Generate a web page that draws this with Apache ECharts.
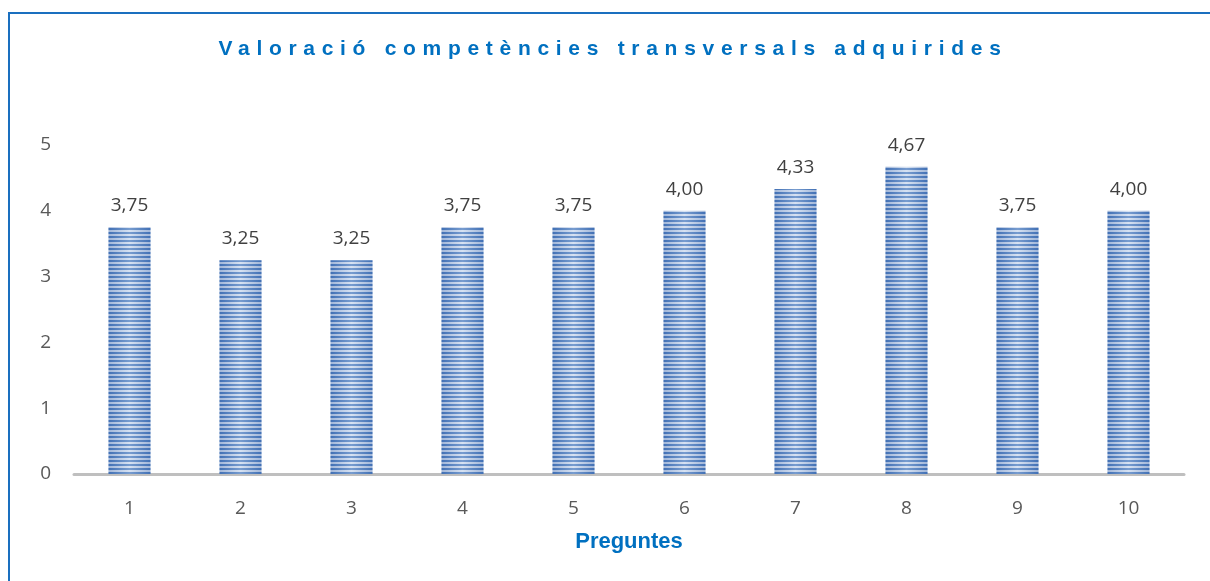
<!DOCTYPE html>
<html>
<head>
<meta charset="utf-8">
<script src="https://cdn.jsdelivr.net/npm/echarts@6/dist/echarts.min.js"></script>
<style>
  html, body { margin: 0; padding: 0; background: #fff; }
  #wrap { position: relative; width: 1210px; height: 581px; overflow: hidden; }
  #chart { width: 1210px; height: 581px; }
  #title {
    position: absolute; left: 8px; width: 1210px; top: 36px; text-align: center;
    font-family: "Liberation Sans", Arial, sans-serif; font-weight: bold;
    font-size: 21px; letter-spacing: 6.7px; color: #0070C0; line-height: 24px;
  }
</style>
</head>
<body>
<div id="wrap">
  <div id="chart"></div>
  <div id="title">Valoració competències transversals adquirides</div>
</div>
<script>
var categories = ['1', '2', '3', '4', '5', '6', '7', '8', '9', '10'];
var values = [3.75, 3.25, 3.25, 3.75, 3.75, 4.00, 4.33, 4.67, 3.75, 4.00];
var yTicks = [0, 1, 2, 3, 4, 5];
var axisName = 'Preguntes';

// striped fill like the original chart
var stripe = document.createElement('canvas');
stripe.width = 4;
stripe.height = 4;
var sctx = stripe.getContext('2d');
sctx.fillStyle = '#c9d8ee';
sctx.fillRect(0, 0, 4, 4);
sctx.fillStyle = '#4a7bbf';
sctx.fillRect(0, 0, 4, 2);

var chart = echarts.init(document.getElementById('chart'), null, { renderer: 'canvas' });

chart.setOption({
    animation: false,
    backgroundColor: '#fff',
    graphic: [{
        type: 'rect',
        shape: { x: 9, y: 13, width: 1260, height: 640 },
        style: { fill: 'none', stroke: '#1a6fbf', lineWidth: 2 },
        silent: true
    }],
    grid: { left: 74, right: 26, top: 145, bottom: 107 },
    xAxis: {
        type: 'category',
        data: categories,
        name: axisName,
        nameLocation: 'middle',
        nameGap: 57,
        nameTextStyle: {
            fontFamily: 'Liberation Sans', fontWeight: 'bold', fontSize: 22, color: '#0070C0'
        },
        axisLine: { lineStyle: { color: '#bfbfbf', width: 3 } },
        axisTick: { show: false },
        axisLabel: { fontFamily: 'Open Sans', fontSize: 19, color: '#595959', margin: 25 }
    },
    yAxis: {
        type: 'value',
        min: yTicks[0],
        max: yTicks[yTicks.length - 1],
        interval: 1,
        axisLine: { show: false },
        axisTick: { show: false },
        splitLine: { show: false },
        axisLabel: { fontFamily: 'Open Sans', fontSize: 19, color: '#595959', margin: 23 }
    },
    series: [{
        type: 'bar',
        data: values,
        barWidth: 42,
        itemStyle: { color: { image: stripe, repeat: 'repeat' } },
        silent: true
    }, {
        type: 'bar',
        data: values,
        barWidth: 42,
        barGap: '-100%',
        itemStyle: {
            color: new echarts.graphic.LinearGradient(0, 0, 1, 0, [
                { offset: 0, color: 'rgba(40,80,150,0.25)' },
                { offset: 0.5, color: 'rgba(255,255,255,0.25)' },
                { offset: 1, color: 'rgba(40,80,150,0.25)' }
            ])
        },
        label: {
            show: true,
            position: 'top',
            distance: 12,
            fontFamily: 'Open Sans',
            fontSize: 19,
            color: '#404040',
            formatter: function (p) { return p.value.toFixed(2).replace('.', ','); }
        },
        silent: true
    }]
});
</script>
</body>
</html>
